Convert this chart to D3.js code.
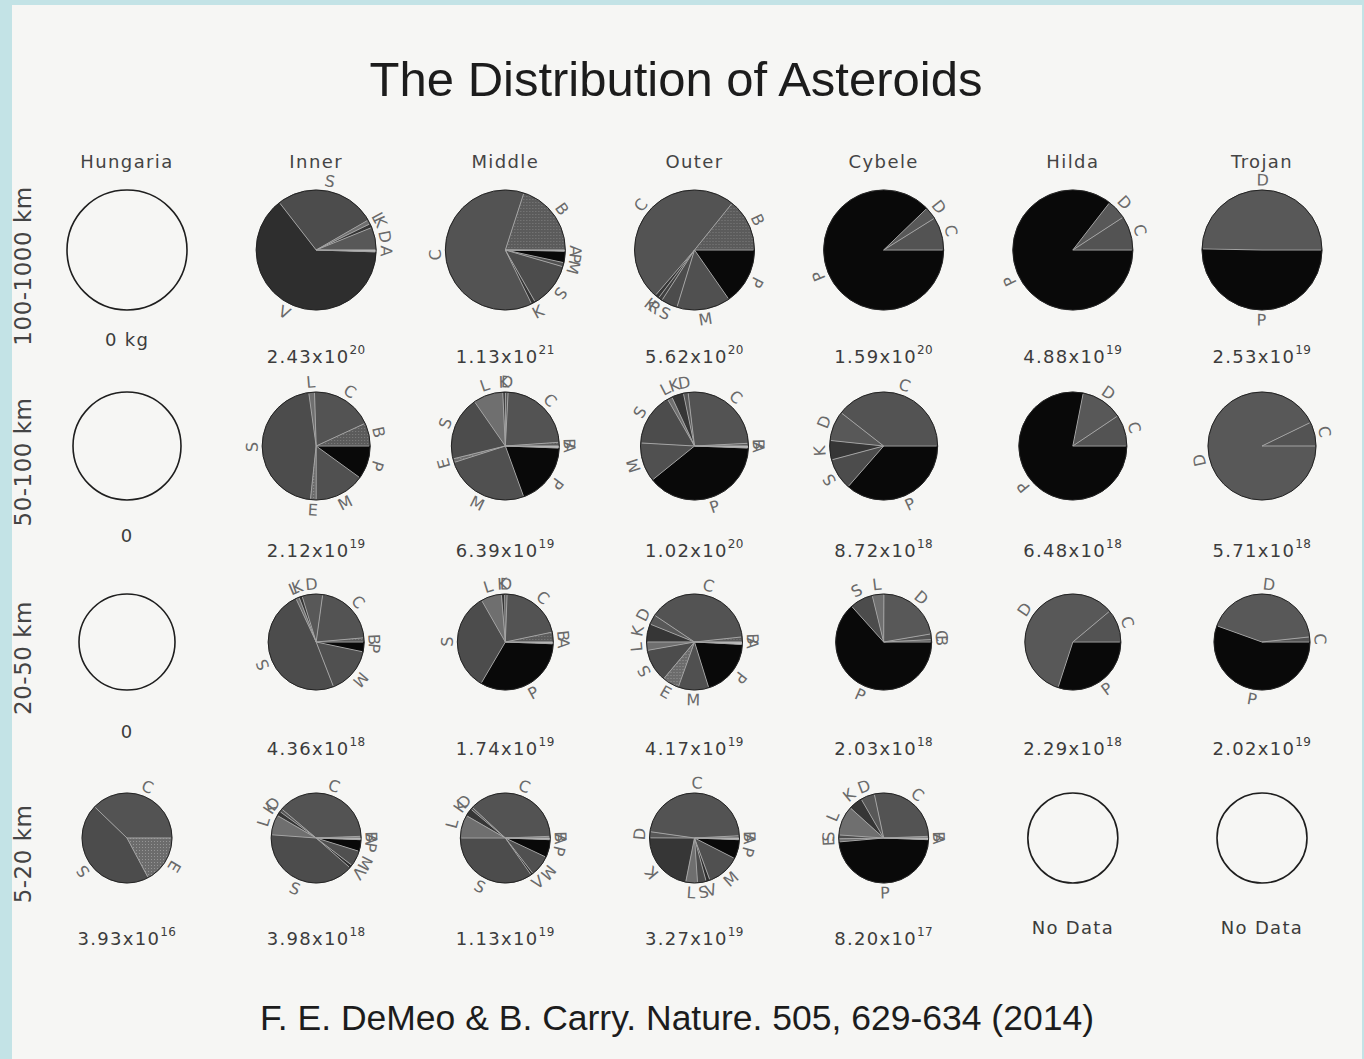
<!DOCTYPE html>
<html>
<head>
<meta charset="utf-8">
<script src="https://cdn.jsdelivr.net/npm/d3@7"></script>
<style>
  html, body { margin: 0; padding: 0; background: #c3e3e6; }
  svg { display: block; }
</style>
</head>
<body>
<svg id="chart" width="1364" height="1059"></svg>
<script>
(function(d3) {
  'use strict';

  var columns = ['Hungaria', 'Inner', 'Middle', 'Outer', 'Cybele', 'Hilda', 'Trojan'];
  var sizeBins = ['100-1000 km', '50-100 km', '20-50 km', '5-20 km'];

  // total mass in each bin (kg), "^" marks the exponent
  var masses_100_1000 = ['0 kg', '2.43x10^20', '1.13x10^21', '5.62x10^20', '1.59x10^20', '4.88x10^19', '2.53x10^19'];
  var masses_50_100 = ['0', '2.12x10^19', '6.39x10^19', '1.02x10^20', '8.72x10^18', '6.48x10^18', '5.71x10^18'];
  var masses_20_50 = ['0', '4.36x10^18', '1.74x10^19', '4.17x10^19', '2.03x10^18', '2.29x10^18', '2.02x10^19'];
  var masses_5_20 = ['3.93x10^16', '3.98x10^18', '1.13x10^19', '3.27x10^19', '8.20x10^17', 'No Data', 'No Data'];

  // mass fraction (%) per taxonomic class, counter-clockwise from 3 o'clock
  var pies_100_1000 = [
    null,
    [['D', 6.1], ['K', 1.1], ['L', 1.1], ['S', 27.2], ['V', 64.0], ['A', 0.5]],
    [['B', 20.0], ['C', 62.2], ['K', 1.1], ['S', 12.2], ['M', 1.1], ['P', 3.1], ['A', 0.3]],
    [['B', 14.2], ['C', 49.4], ['K', 1.1], ['R', 1.1], ['S', 4.4], ['M', 14.4], ['P', 15.3]],
    [['C', 8.9], ['D', 3.3], ['P', 87.8]],
    [['C', 9.2], ['D', 5.3], ['P', 85.6]],
    [['D', 49.7], ['P', 50.3]]
  ];
  var pies_50_100 = [
    null,
    [['B', 6.9], ['C', 18.6], ['L', 1.7], ['S', 46.1], ['E', 1.7], ['M', 15.0], ['P', 10.0]],
    [['B', 1.1], ['C', 23.1], ['D', 0.8], ['K', 0.8], ['L', 8.9], ['S', 19.2], ['E', 1.1], ['M', 25.6], ['P', 18.9], ['A', 0.6]],
    [['B', 0.8], ['C', 26.1], ['D', 1.4], ['K', 3.6], ['L', 1.4], ['S', 15.8], ['M', 11.7], ['P', 38.6], ['A', 0.6]],
    [['C', 39.4], ['D', 8.9], ['K', 5.8], ['S', 9.4], ['P', 36.4]],
    [['C', 9.4], ['D', 12.5], ['P', 78.1]],
    [['C', 7.2], ['D', 92.8]]
  ];
  var pies_20_50 = [
    null,
    [['B', 1.4], ['C', 21.4], ['D', 6.9], ['K', 1.1], ['L', 1.1], ['S', 48.9], ['M', 15.8], ['P', 3.3]],
    [['B', 3.3], ['C', 21.1], ['D', 0.8], ['K', 1.1], ['L', 6.9], ['S', 33.3], ['P', 32.8], ['A', 0.6]],
    [['B', 1.7], ['C', 38.9], ['D', 3.3], ['K', 6.1], ['L', 2.8], ['S', 11.1], ['E', 5.6], ['M', 10.3], ['P', 19.4], ['A', 0.8]],
    [['B', 0.8], ['C', 1.9], ['D', 22.2], ['L', 3.9], ['S', 7.8], ['P', 63.3]],
    [['C', 11.1], ['D', 58.9], ['P', 30.0]],
    [['C', 1.7], ['D', 42.8], ['P', 55.5]]
  ];
  var pies_5_20 = [
    [['C', 37.8], ['S', 45.0], ['E', 17.2]],
    [['B', 0.6], ['C', 38.3], ['D', 1.1], ['K', 1.7], ['L', 7.2], ['S', 39.7], ['V', 1.1], ['M', 5.6], ['P', 4.2], ['A', 0.6]],
    [['B', 0.6], ['C', 37.5], ['D', 0.8], ['K', 2.8], ['L', 8.3], ['S', 34.7], ['V', 0.8], ['M', 7.5], ['P', 6.4], ['A', 0.6]],
    [['B', 0.8], ['C', 46.9], ['D', 2.2], ['K', 21.9], ['L', 4.2], ['S', 3.1], ['V', 1.4], ['M', 11.9], ['P', 6.9], ['A', 0.6]],
    [['B', 0.6], ['C', 27.8], ['D', 5.0], ['K', 5.0], ['L', 10.6], ['S', 1.4], ['E', 1.1], ['P', 48.1], ['A', 0.6]],
    null,
    null
  ];

  var rows = [
    { bin: sizeBins[0], pies: pies_100_1000, masses: masses_100_1000 },
    { bin: sizeBins[1], pies: pies_50_100, masses: masses_50_100 },
    { bin: sizeBins[2], pies: pies_20_50, masses: masses_20_50 },
    { bin: sizeBins[3], pies: pies_5_20, masses: masses_5_20 }
  ];

  var greys = {
    A: '#c9c9c9', B: 'url(#dotsB)', C: '#535353', D: '#585858', E: 'url(#dotsE)',
    K: '#363636', L: '#6f6f6f', M: '#505050', P: '#090909', R: '#404040',
    S: '#4c4c4c', V: '#2e2e2e'
  };

  var svg = d3.select('#chart');

  var defs = svg.append('defs');
  var dotsB = defs.append('pattern').attr('id', 'dotsB')
      .attr('width', 3).attr('height', 3).attr('patternUnits', 'userSpaceOnUse');
  dotsB.append('rect').attr('width', 3).attr('height', 3).attr('fill', '#5b5b5b');
  dotsB.append('rect').attr('width', 1).attr('height', 1).attr('fill', '#7e7e7e');
  var dotsE = defs.append('pattern').attr('id', 'dotsE')
      .attr('width', 3).attr('height', 3).attr('patternUnits', 'userSpaceOnUse');
  dotsE.append('rect').attr('width', 3).attr('height', 3).attr('fill', '#6c6c6c');
  dotsE.append('rect').attr('width', 1).attr('height', 1).attr('fill', '#959595');

  // scanned page
  svg.append('rect')
      .attr('x', 12).attr('y', 5)
      .attr('width', 1350).attr('height', 1054)
      .attr('fill', '#f6f6f4');

  var x = d3.scalePoint().domain(columns).range([127, 1262]);
  var y = d3.scalePoint().domain(sizeBins).range([250, 838]);
  var radius = d3.scaleOrdinal().domain(sizeBins).range([60, 54, 48, 45]);
  var massOffset = d3.scaleOrdinal().domain(sizeBins).range([113, 111, 113, 107]);

  var pie = d3.pie()
      .sort(null)
      .value(function(d) { return d[1]; })
      .startAngle(Math.PI / 2)
      .endAngle(Math.PI / 2 - 2 * Math.PI);

  var plotFont = '"DejaVu Sans", sans-serif';

  svg.append('text')
      .attr('x', 676).attr('y', 96)
      .attr('text-anchor', 'middle')
      .attr('font-family', '"Liberation Sans", Arial, sans-serif')
      .attr('font-size', 49)
      .attr('fill', '#1c1c1c')
      .text('The Distribution of Asteroids');

  svg.selectAll('.colhead')
      .data(columns)
      .enter().append('text')
      .attr('class', 'colhead')
      .attr('x', function(d) { return x(d); })
      .attr('y', 168)
      .attr('text-anchor', 'middle')
      .attr('font-family', plotFont)
      .attr('font-size', 18)
      .attr('letter-spacing', 1.4)
      .attr('fill', '#444')
      .text(function(d) { return d; });

  svg.selectAll('.rowhead')
      .data(sizeBins)
      .enter().append('text')
      .attr('class', 'rowhead')
      .attr('transform', function(d) { return 'translate(31,' + (y(d) + 16) + ') rotate(-90)'; })
      .attr('text-anchor', 'middle')
      .attr('font-family', plotFont)
      .attr('font-size', 23)
      .attr('letter-spacing', 0.5)
      .attr('fill', '#444')
      .text(function(d) { return d; });

  function massText(sel, s) {
    var parts = s.split('^');
    sel.append('tspan').text(parts[0]);
    if (parts[1]) {
      sel.append('tspan')
          .attr('dy', -9)
          .attr('font-size', 12)
          .attr('letter-spacing', 0.5)
          .text(parts[1]);
    }
  }

  rows.forEach(function(row) {
    var r = radius(row.bin);
    columns.forEach(function(col, j) {
      var slices = row.pies[j];
      var g = svg.append('g')
          .attr('transform', 'translate(' + x(col) + ',' + y(row.bin) + ')');

      if (!slices) {
        g.append('circle')
            .attr('r', r)
            .attr('fill', 'none')
            .attr('stroke', '#1e1e1e')
            .attr('stroke-width', 1.6);
      } else {
        var arcs = pie(slices);
        var arc = d3.arc().innerRadius(0).outerRadius(r);

        g.selectAll('path.slice')
            .data(arcs)
            .enter().append('path')
            .attr('class', 'slice')
            .attr('d', arc)
            .attr('fill', function(d) { return greys[d.data[0]]; })
            .attr('stroke', function(d) { return greys[d.data[0]]; })
            .attr('stroke-width', 0.4);

        // light boundaries between slices
        g.selectAll('line.sep')
            .data(arcs)
            .enter().append('line')
            .attr('class', 'sep')
            .attr('x1', 0).attr('y1', 0)
            .attr('x2', function(d) { return Math.sin(d.startAngle) * (r - 1); })
            .attr('y2', function(d) { return -Math.cos(d.startAngle) * (r - 1); })
            .attr('stroke', '#a4a4a4')
            .attr('stroke-width', 1);

        g.append('circle')
            .attr('r', r)
            .attr('fill', 'none')
            .attr('stroke', '#222')
            .attr('stroke-width', 1);

        var lr = r + 10;
        g.selectAll('text.cls')
            .data(arcs)
            .enter().append('text')
            .attr('class', 'cls')
            .attr('transform', function(d) {
              var a = (d.startAngle + d.endAngle) / 2;
              var deg = ((a * 180 / Math.PI) % 360 + 360) % 360;
              var rot = (deg > 135 && deg < 225) ? deg - 180 : deg;
              return 'translate(' + (Math.sin(a) * lr) + ',' + (-Math.cos(a) * lr) + ') rotate(' + rot + ')';
            })
            .attr('text-anchor', 'middle')
            .attr('dominant-baseline', 'central')
            .attr('font-family', plotFont)
            .attr('font-size', 16)
            .attr('fill', '#6a6a6a')
            .text(function(d) { return d.data[0]; });
      }

      var label = g.append('text')
          .attr('y', slices ? massOffset(row.bin) : 96)
          .attr('text-anchor', 'middle')
          .attr('font-family', plotFont)
          .attr('font-size', 18)
          .attr('letter-spacing', 1.3)
          .attr('fill', '#3c3c3c');
      massText(label, row.masses[j]);
    });
  });

  svg.append('text')
      .attr('x', 677).attr('y', 1030)
      .attr('text-anchor', 'middle')
      .attr('font-family', '"Liberation Sans", Arial, sans-serif')
      .attr('font-size', 35.5)
      .attr('fill', '#1c1c1c')
      .text('F. E. DeMeo & B. Carry. Nature. 505, 629-634 (2014)');
})(window.d3);
</script>
</body>
</html>
